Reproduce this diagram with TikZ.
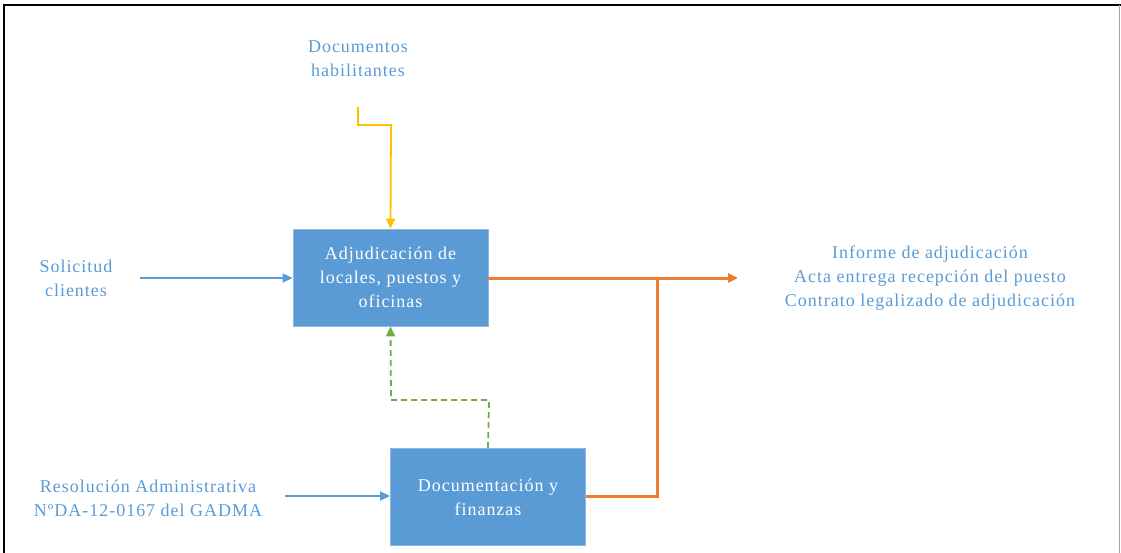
\documentclass[tikz,border=0pt]{standalone}
\usepackage{fontspec}
\setmainfont{Liberation Serif}[LetterSpace=5.5]
\usetikzlibrary{arrows.meta}
\definecolor{oblue}{HTML}{5B9BD5}
\definecolor{oorange}{HTML}{ED7D31}
\definecolor{oyellow}{HTML}{FFC000}
\definecolor{ogreen}{HTML}{70AD47}
\begin{document}
\begin{tikzpicture}[x=1pt,y=-1pt,
  procbox/.style={draw=oblue!70!white,line width=0.8pt,fill=oblue,text=white,minimum width=195pt,minimum height=97pt,align=center,font=\fontsize{18}{24}\selectfont,inner sep=0pt},
  lbl/.style={text=oblue,align=center,font=\fontsize{18}{24}\selectfont,inner sep=0pt},
  tip/.style={-{Triangle[length=10pt,width=9pt]}},
  bluearrow/.style={tip,draw=oblue,line width=1.8pt},
  orangeline/.style={draw=oorange,line width=3pt},
  ]
\useasboundingbox (0,0) rectangle (1121,553);
\draw[black,line width=2.5pt] (4,553) -- (4,5) -- (1121,5);
\draw[gray!70,line width=1pt] (1119,5) -- (1119,553);
\node[procbox] (adj) at (390.5,277.5) {Adjudicación de\\locales, puestos y\\oficinas};
\node[procbox] (doc) at (488,497) {Documentación y\\finanzas};
\node[lbl] (hab) at (358,59) {Documentos\\habilitantes};
\node[lbl] (sol) at (76,278) {Solicitud\\clientes};
\node[lbl] (res) at (148,498) {Resolución Administrativa\\NºDA-12-0167 del GADMA};
\node[lbl] (out) at (930,278) {Informe de adjudicación\\Acta entrega recepción del puesto\\Contrato legalizado de adjudicación};
\coordinate (y0) at (358,107);
\coordinate (s0) at (140,278);
\coordinate (r0) at (285,496);
\coordinate (o1) at (738,278);
\coordinate (j) at (657,278);
\draw[tip,draw=oyellow,line width=1.8pt] (y0) -- (358,125) -- (391,125) -- (adj.north);
\draw[bluearrow] (s0) -- (adj.west |- s0);
\draw[bluearrow] (r0) -- (doc.west |- r0);
\draw[orangeline,tip] (adj.east |- o1) -- (o1);
\draw[orangeline] (doc.east |- 0,496) -- (657,496) -- (j);
\draw[tip,draw=ogreen,line width=1.8pt,dash pattern=on 6pt off 4pt] (doc.north) -- (489,400) -- (391,400) -- (adj.south);
\end{tikzpicture}
\end{document}
